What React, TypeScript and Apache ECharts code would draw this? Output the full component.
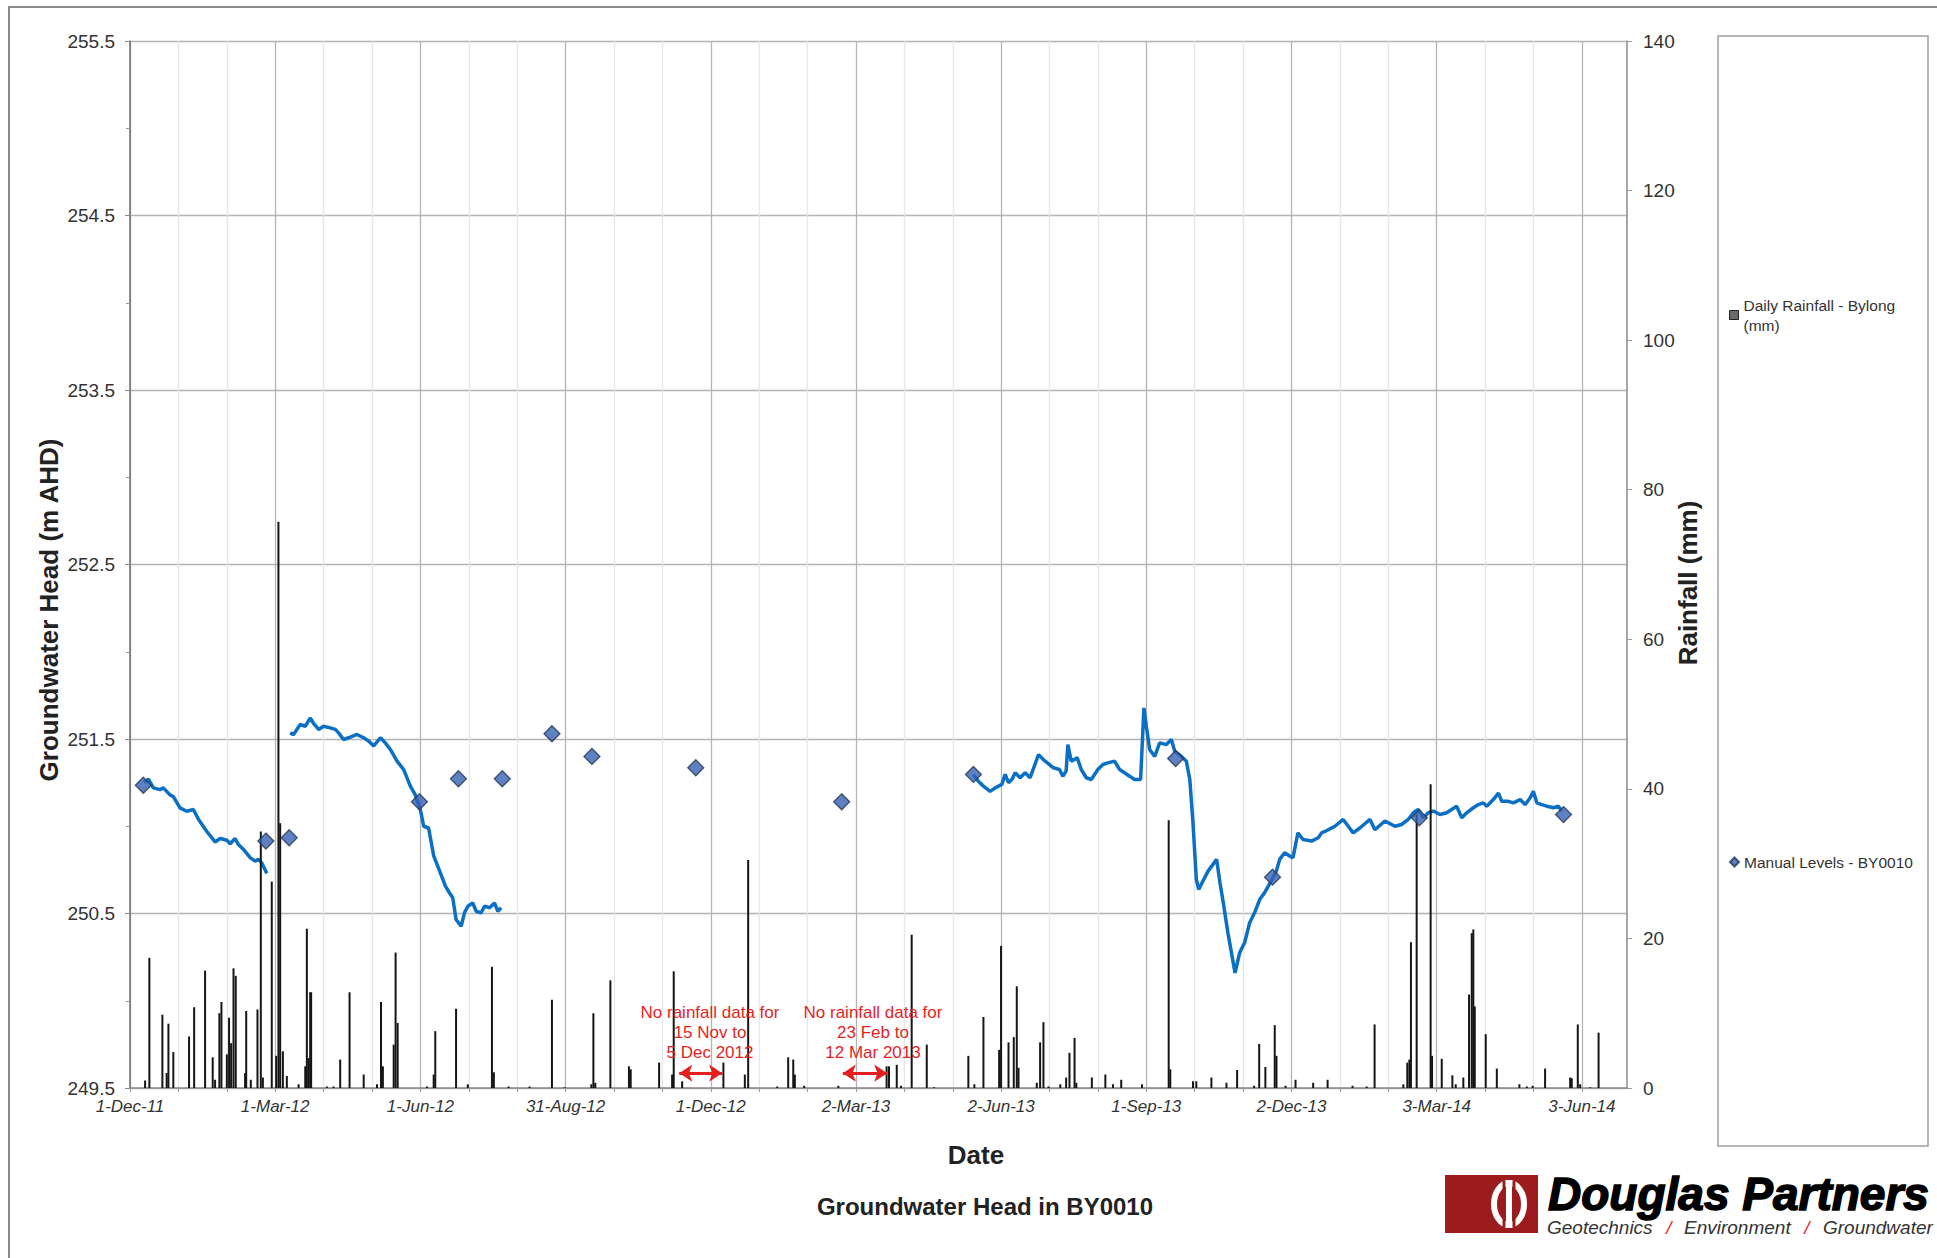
import React, { useEffect, useRef } from 'react';
import * as echarts from 'echarts';

// x values are days since 1-Dec-2011 (day 0); axis runs to 1-Jul-2014
const START_DATE_UTC = Date.UTC(2011, 11, 1);
const AXIS_END_DAY = 943;
const MINOR_STEP_DAYS = 30.4867; // three minor steps = one labelled major step (~91.46 days)
const MONTHS = ['Jan', 'Feb', 'Mar', 'Apr', 'May', 'Jun', 'Jul', 'Aug', 'Sep', 'Oct', 'Nov', 'Dec'];

const headMin = 249.5;
const headMax = 255.5;
const rainMin = 0;
const rainMax = 140;

// Continuous logger record of groundwater head [day, m AHD]
const loggerSegment1 = [
  [9, 251.25], [11.6, 251.27], [14.7, 251.22], [18.9, 251.21], [21.0, 251.22], [25.2, 251.18],
  [27.3, 251.17], [31.5, 251.105], [35.7, 251.086], [39.9, 251.096], [43.1, 251.04], [48.4, 250.97],
  [53.6, 250.91], [56.8, 250.93], [61.0, 250.92], [63.1, 250.9], [66.2, 250.93], [68.3, 250.895],
  [71.5, 250.867], [75.7, 250.82], [78.8, 250.8], [80.9, 250.81], [83.0, 250.79], [86.2, 250.73],
];

const loggerSegment2 = [
  [100.9, 251.535], [103, 251.525], [107.2, 251.583], [110.4, 251.573], [113.5, 251.62], [115.6, 251.59],
  [118.8, 251.555], [121.9, 251.573], [126.1, 251.564], [129.3, 251.555], [131.4, 251.535], [134.5, 251.497],
  [137.7, 251.507], [142.9, 251.526], [147.2, 251.507], [150.3, 251.488], [153.5, 251.46], [157.7, 251.507],
  [160.8, 251.478], [164, 251.44], [168.2, 251.373], [172.4, 251.325], [176.6, 251.23], [179.7, 251.18],
  [182.9, 251.096], [185, 251.0], [188.1, 250.99], [191.3, 250.83], [195.5, 250.733], [198.7, 250.657],
  [201.2, 250.619], [203.3, 250.59], [205.4, 250.466], [208.6, 250.427], [210.7, 250.504], [212.8, 250.542],
  [215.9, 250.56], [218.1, 250.513], [221.2, 250.504], [223.3, 250.542], [226.5, 250.533], [229.6, 250.56],
  [231.7, 250.513], [233.8, 250.533],
];

const loggerSegment3 = [
  [531.3, 251.297], [534.4, 251.258], [537.6, 251.23], [541.8, 251.2], [545, 251.22], [549.2, 251.24],
  [551.3, 251.297], [553.4, 251.25], [555.5, 251.268], [557.6, 251.306], [560.7, 251.278], [563.9, 251.306],
  [567, 251.278], [572.3, 251.41], [576.5, 251.373], [581.7, 251.335], [585.5, 251.325], [587.6, 251.287],
  [589.7, 251.316], [590.8, 251.468], [592.9, 251.373], [596.7, 251.392], [599.2, 251.325], [602.4, 251.278],
  [605.5, 251.268], [609.7, 251.325], [612.9, 251.354], [616, 251.363], [620.2, 251.373], [623.4, 251.325],
  [629.7, 251.287], [632.8, 251.268], [636.6, 251.268], [638.7, 251.678], [640.2, 251.574], [642.3, 251.44],
  [645.5, 251.4], [648.6, 251.478], [652.8, 251.468], [656, 251.497], [658.1, 251.43], [662.3, 251.4],
  [665.4, 251.373], [667.6, 251.268], [669.6, 251.02], [671.7, 250.695], [673.2, 250.638], [675.9, 250.686],
  [679.1, 250.743], [684.5, 250.81], [686.6, 250.676], [688.7, 250.561], [691.6, 250.389], [696.1, 250.16],
  [699, 250.275], [702.1, 250.332], [705.3, 250.447], [708.4, 250.504], [711.6, 250.58], [714.7, 250.619],
  [718.9, 250.686], [722.1, 250.743], [724.2, 250.81], [727.3, 250.848], [730.5, 250.829], [732.6, 250.82],
  [735.7, 250.962], [738.9, 250.924], [744.3, 250.915], [748.5, 250.934], [750.6, 250.962], [752.7, 250.97],
  [756.9, 250.99], [759, 251.0], [764.2, 251.039], [767.4, 251.0], [770.5, 250.962], [774.7, 250.99],
  [781.1, 251.039], [784.2, 250.98], [790.5, 251.03], [796.8, 251.0], [801, 251.01], [805.2, 251.039],
  [808.4, 251.077], [811.5, 251.096], [814.7, 251.048], [817.8, 251.077], [821, 251.087], [825.2, 251.067],
  [829.4, 251.077], [835.7, 251.115], [838.9, 251.048], [842, 251.077], [846.2, 251.106], [849.4, 251.124],
  [852.5, 251.134], [854.6, 251.115], [858.8, 251.153], [862, 251.19], [864.1, 251.143], [868.3, 251.143],
  [871.4, 251.134], [875.7, 251.153], [878.8, 251.124], [881.9, 251.162], [884, 251.2], [886.2, 251.134],
  [889.3, 251.124], [892.5, 251.115], [896.7, 251.106], [899.8, 251.115], [901.9, 251.087],
];

// Manual dip readings [day, m AHD]
const manualLevels = [
  [8.4, 251.235], [85.6, 250.915], [100.3, 250.934], [182.3, 251.14], [206.9, 251.272], [234.5, 251.272],
  [265.8, 251.53], [291.0, 251.4], [356.4, 251.335], [448.3, 251.14], [531.3, 251.297], [658.7, 251.388],
  [719.7, 250.708], [812.2, 251.048], [903.0, 251.067],
];

// Daily rainfall at Bylong [day, mm]
const dailyRainfall = [
  [9.5, 1.0], [12.2, 17.4], [20.4, 9.8], [23.1, 2.0], [24.2, 8.6], [27.3, 4.8], [37.2, 6.9], [40.4, 10.8],
  [47.3, 15.7], [52.1, 4.1], [53.6, 1.1], [56.3, 10.0], [57.6, 11.5], [61.0, 4.5], [62.4, 9.4], [63.7, 6.0],
  [65.2, 16.0], [66.6, 15.0], [72.5, 2.0], [73.2, 10.3], [76.1, 1.1], [80.3, 10.5], [82.4, 34.3], [83.7, 1.4],
  [89.3, 27.6], [92.1, 4.3], [93.5, 75.7], [94.6, 35.4], [96.3, 4.9], [98.8, 1.6], [106.2, 0.5], [110.4, 2.9],
  [111.4, 21.3], [112.5, 4.0], [113.5, 12.8], [114.1, 12.8], [124, 0.2], [128.2, 0.2], [132.4, 3.8],
  [138.3, 12.8], [147.2, 1.8], [155.6, 0.5], [158.1, 11.5], [159.3, 2.9], [166.1, 5.8], [167.3, 18.1],
  [168.6, 8.7], [187.1, 0.2], [191.3, 1.8], [192.3, 7.6], [205.4, 10.6], [212.8, 0.5], [228.0, 16.2],
  [229.2, 2.1], [238.5, 0.2], [251.7, 0.2], [265.8, 11.8], [273.8, 0.1], [290.6, 0.5], [291.9, 10.0],
  [293.1, 0.7], [302.6, 14.4], [314.3, 2.9], [315.4, 2.5], [333.3, 3.4], [341.5, 1.8], [342.5, 15.6],
  [347.8, 0.9], [373.8, 3.4], [387.3, 1.8], [389.4, 30.5], [407.7, 0.2], [414.6, 4.1], [417.8, 3.8],
  [418.8, 1.8], [424.7, 0.3], [446.2, 0.3], [476.6, 2.9], [478.1, 2.9], [483.0, 3.1], [485.7, 0.3],
  [492.4, 20.5], [501.9, 5.8], [506.5, 0.1], [528.1, 4.3], [531.9, 0.5], [537.6, 9.5], [547.5, 5.1],
  [548.7, 19.0], [553.4, 6.1], [556.7, 6.8], [558.6, 13.6], [559.7, 2.7], [571.2, 0.7], [573.3, 6.1],
  [575.4, 8.8], [578.6, 0.2], [586.0, 0.5], [589.7, 1.4], [591.8, 4.7], [595.0, 6.7], [596.1, 0.7],
  [605.9, 1.4], [614.4, 1.8], [619.2, 0.5], [624.4, 1.1], [637.5, 0.5], [654.3, 35.8], [655.3, 2.5],
  [669.6, 0.9], [671.7, 0.9], [681.2, 1.4], [690.7, 0.7], [697.4, 2.4], [708.1, 0.3], [711.3, 5.9],
  [715.2, 2.8], [721.1, 8.4], [722.2, 4.3], [727.9, 0.3], [734.2, 1.1], [745.3, 0.7], [754.4, 1.1],
  [770.1, 0.3], [779.0, 0.2], [784.0, 8.5], [802.1, 0.5], [804.6, 3.4], [805.9, 3.8], [806.9, 19.5],
  [810.5, 36.6], [819.3, 40.6], [820.2, 4.3], [826.3, 3.9], [833.0, 1.7], [835.1, 0.5], [839.9, 1.4],
  [843.5, 12.5], [845.2, 20.7], [846.2, 21.2], [847.1, 10.9], [854.0, 7.2], [861.0, 2.6], [875.2, 0.5],
  [879.9, 0.2], [883.6, 0.3], [891.4, 2.6], [907.2, 1.4], [908.2, 1.3], [912.0, 8.5], [913.5, 0.5],
  [919.8, 0.1], [925.1, 7.4],
];

// Periods with no rainfall data [start day, end day] (arrow extents)
const noRainfallGaps = [
  [346, 373],
  [449, 477],
];
const gapNotes = ['No rainfall data for\n15 Nov to\n5 Dec 2012', 'No rainfall data for\n23 Feb to\n12 Mar 2013'];

const RAIN_NAME = 'Daily Rainfall - Bylong (mm)';
const MANUAL_NAME = 'Manual Levels - BY0010';
const FONT = '"Liberation Sans", Arial, Helvetica, sans-serif';
const RED = '#E51F1F';

function dayLabel(v: number): string {
  const k = Math.round(v / MINOR_STEP_DAYS);
  if (Math.abs(v - k * MINOR_STEP_DAYS) > 0.5 || k % 3 !== 0) return '';
  const dt = new Date(START_DATE_UTC + Math.round(v) * 86400000);
  const yy = String(dt.getUTCFullYear() % 100).padStart(2, '0');
  return `${dt.getUTCDate()}-${MONTHS[dt.getUTCMonth()]}-${yy}`;
}

export default function App() {
  const ref = useRef<HTMLDivElement>(null);

  useEffect(() => {
    if (!ref.current) return;
    const chart = echarts.init(ref.current, undefined, { renderer: 'svg' });

    const lineStyleCommon = { color: '#0B70C4', width: 3.5 };
    const loggerSeries = [loggerSegment1, loggerSegment2, loggerSegment3].map((seg, i) => ({
      name: 'Logger ' + (i + 1),
      type: 'line',
      data: seg,
      xAxisIndex: 0,
      yAxisIndex: 0,
      showSymbol: false,
      symbol: 'none',
      lineStyle: lineStyleCommon,
      itemStyle: { color: '#0B70C4' },
      z: 2,
      silent: true,
    }));

    const option: any = {
      animation: false,
      backgroundColor: '#ffffff',
      textStyle: { fontFamily: FONT },
      grid: {
        left: 130,
        right: 310,
        top: 41,
        bottom: 170,
        containLabel: false,
        outerBoundsMode: 'none',
      },
      legend: [
        {
          data: [
            {
              name: RAIN_NAME,
              icon: 'rect',
              itemStyle: { color: '#6a6a6a', borderColor: '#222', borderWidth: 1 },
            },
          ],
          left: 1724,
          top: 280,
          orient: 'vertical',
          itemWidth: 9,
          itemHeight: 9,
          selectedMode: false,
          formatter: (name: string) => name.replace(' (mm)', '\n(mm)'),
          textStyle: { fontSize: 15.5, color: '#333', lineHeight: 20, padding: [20, 0, 0, 0], fontFamily: FONT },
        },
        {
          data: [{ name: MANUAL_NAME, icon: 'diamond' }],
          left: 1724,
          top: 849,
          orient: 'vertical',
          itemWidth: 9,
          itemHeight: 9,
          selectedMode: false,
          textStyle: { fontSize: 15.5, color: '#333', fontFamily: FONT },
        },
      ],
      xAxis: {
        type: 'value',
        min: 0,
        max: AXIS_END_DAY,
        interval: MINOR_STEP_DAYS,
        axisLine: { show: true, lineStyle: { color: '#8a8a8a', width: 1.5 } },
        axisTick: { show: true, length: 4, lineStyle: { color: '#9a9a9a' } },
        axisLabel: {
          formatter: dayLabel,
          fontSize: 17,
          fontStyle: 'italic',
          color: '#333',
          margin: 10,
          fontFamily: FONT,
          showMaxLabel: false,
        },
        splitLine: {
          show: true,
          showMaxLine: false,
          lineStyle: { color: ['#b4b4b4', '#e6e6e6', '#e6e6e6'], width: 1.3 },
        },
      },
      yAxis: [
        {
          type: 'value',
          min: headMin,
          max: headMax,
          interval: 1,
          position: 'left',
          axisLine: { show: true, lineStyle: { color: '#6e6e6e', width: 1.5 } },
          axisTick: { show: true, length: 5, lineStyle: { color: '#8a8a8a' } },
          minorTick: { show: true, splitNumber: 2, length: 4, lineStyle: { color: '#9a9a9a' } },
          axisLabel: {
            fontSize: 19,
            color: '#333',
            margin: 15,
            fontFamily: FONT,
            formatter: (v: number) => v.toFixed(1),
          },
          splitLine: { show: true, lineStyle: { color: '#b4b4b4', width: 1.3 } },
        },
        {
          type: 'value',
          min: rainMin,
          max: rainMax,
          interval: 20,
          position: 'right',
          axisLine: { show: true, lineStyle: { color: '#8a8a8a', width: 1.5 } },
          axisTick: { show: true, length: 5, lineStyle: { color: '#9a9a9a' } },
          axisLabel: { fontSize: 19, color: '#333', margin: 16, fontFamily: FONT },
          splitLine: { show: false },
        },
      ],
      series: [
        ...loggerSeries,
        {
          name: RAIN_NAME,
          type: 'bar',
          data: dailyRainfall,
          xAxisIndex: 0,
          yAxisIndex: 1,
          barWidth: 2,
          itemStyle: { color: '#151515' },
          z: 3,
          silent: true,
        },
        {
          name: MANUAL_NAME,
          type: 'scatter',
          data: manualLevels,
          xAxisIndex: 0,
          yAxisIndex: 0,
          symbol: 'diamond',
          symbolSize: 16,
          itemStyle: { color: '#3462B4', borderColor: '#25364f', borderWidth: 1.3 },
          z: 4,
          silent: true,
          markLine: {
            silent: true,
            symbol: ['arrow', 'arrow'],
            symbolSize: 13,
            label: { show: false },
            lineStyle: { color: RED, width: 3, type: 'solid' },
            data: noRainfallGaps.map(([a, b]) => [
              { coord: [a, 249.585] },
              { coord: [b, 249.585] },
            ]),
          },
        },
      ],
      graphic: [
        // outer frame
        {
          type: 'rect',
          silent: true,
          shape: { x: 9, y: 7, width: 2200, height: 2200 },
          style: { fill: 'none', stroke: '#8c8c8c', lineWidth: 2 },
        },
        // legend box
        {
          type: 'rect',
          silent: true,
          shape: { x: 1718, y: 36, width: 210, height: 1110 },
          style: { fill: 'none', stroke: '#a0a0a0', lineWidth: 1.5 },
        },
        {
          type: 'text',
          x: 49,
          y: 610,
          rotation: Math.PI / 2,
          silent: true,
          style: {
            text: 'Groundwater Head (m AHD)',
            fontSize: 26,
            fontWeight: 'bold',
            fontFamily: FONT,
            fill: '#222',
            textAlign: 'center',
            textVerticalAlign: 'middle',
          },
        },
        {
          type: 'text',
          x: 1688,
          y: 583,
          rotation: Math.PI / 2,
          silent: true,
          style: {
            text: 'Rainfall (mm)',
            fontSize: 26,
            fontWeight: 'bold',
            fontFamily: FONT,
            fill: '#222',
            textAlign: 'center',
            textVerticalAlign: 'middle',
          },
        },
        {
          type: 'text',
          x: 976,
          y: 1155,
          silent: true,
          style: {
            text: 'Date',
            fontSize: 26,
            fontWeight: 'bold',
            fontFamily: FONT,
            fill: '#222',
            textAlign: 'center',
            textVerticalAlign: 'middle',
          },
        },
        {
          type: 'text',
          x: 985,
          y: 1206,
          silent: true,
          style: {
            text: 'Groundwater Head in BY0010',
            fontSize: 24,
            fontWeight: 'bold',
            fontFamily: FONT,
            fill: '#222',
            textAlign: 'center',
            textVerticalAlign: 'middle',
          },
        },
        // gap notes
        {
          type: 'text',
          x: 710,
          y: 1002,
          silent: true,
          z: 10,
          style: {
            text: gapNotes[0],
            fontSize: 17,
            lineHeight: 20,
            fontFamily: FONT,
            fill: RED,
            textAlign: 'center',
            textVerticalAlign: 'top',
          },
        },
        {
          type: 'text',
          x: 873,
          y: 1002,
          silent: true,
          z: 10,
          style: {
            text: gapNotes[1],
            fontSize: 17,
            lineHeight: 20,
            fontFamily: FONT,
            fill: RED,
            textAlign: 'center',
            textVerticalAlign: 'top',
          },
        },
        // logo
        {
          type: 'rect',
          silent: true,
          shape: { x: 1445, y: 1175, width: 93, height: 58 },
          style: { fill: '#9C1C1E' },
        },
        {
          type: 'ellipse',
          silent: true,
          shape: { cx: 1509, cy: 1204, rx: 15, ry: 21 },
          style: { fill: 'none', stroke: '#ffffff', lineWidth: 6 },
        },
        {
          type: 'rect',
          silent: true,
          shape: { x: 1502.5, y: 1181, width: 3, height: 46 },
          style: { fill: '#9C1C1E' },
        },
        {
          type: 'rect',
          silent: true,
          shape: { x: 1512.5, y: 1181, width: 3, height: 46 },
          style: { fill: '#9C1C1E' },
        },
        {
          type: 'rect',
          silent: true,
          shape: { x: 1506, y: 1180, width: 6, height: 48 },
          style: { fill: '#ffffff' },
        },
        {
          type: 'text',
          x: 1548,
          y: 1194,
          silent: true,
          style: {
            text: 'Douglas Partners',
            fontSize: 46,
            fontWeight: 'bold',
            fontStyle: 'italic',
            fontFamily: FONT,
            fill: '#000',
            stroke: '#000',
            lineWidth: 1.5,
            textAlign: 'left',
            textVerticalAlign: 'middle',
          },
        },
        {
          type: 'text',
          x: 1547,
          y: 1227,
          silent: true,
          style: {
            text: 'Geotechnics',
            fontSize: 19,
            fontStyle: 'italic',
            fontFamily: FONT,
            fill: '#333',
            textAlign: 'left',
            textVerticalAlign: 'middle',
          },
        },
        {
          type: 'text',
          x: 1669,
          y: 1227,
          silent: true,
          style: {
            text: '/',
            fontSize: 19,
            fontStyle: 'italic',
            fontFamily: FONT,
            fill: RED,
            textAlign: 'center',
            textVerticalAlign: 'middle',
          },
        },
        {
          type: 'text',
          x: 1684,
          y: 1227,
          silent: true,
          style: {
            text: 'Environment',
            fontSize: 19,
            fontStyle: 'italic',
            fontFamily: FONT,
            fill: '#333',
            textAlign: 'left',
            textVerticalAlign: 'middle',
          },
        },
        {
          type: 'text',
          x: 1807,
          y: 1227,
          silent: true,
          style: {
            text: '/',
            fontSize: 19,
            fontStyle: 'italic',
            fontFamily: FONT,
            fill: RED,
            textAlign: 'center',
            textVerticalAlign: 'middle',
          },
        },
        {
          type: 'text',
          x: 1823,
          y: 1227,
          silent: true,
          style: {
            text: 'Groundwater',
            fontSize: 19,
            fontStyle: 'italic',
            fontFamily: FONT,
            fill: '#333',
            textAlign: 'left',
            textVerticalAlign: 'middle',
          },
        },
      ],
    };

    chart.setOption(option);
    return () => {
      chart.dispose();
    };
  }, []);

  return (
    <div
      ref={ref}
      style={{ position: 'fixed', left: 0, top: 0, width: 1937, height: 1258, background: '#fff' }}
    />
  );
}
